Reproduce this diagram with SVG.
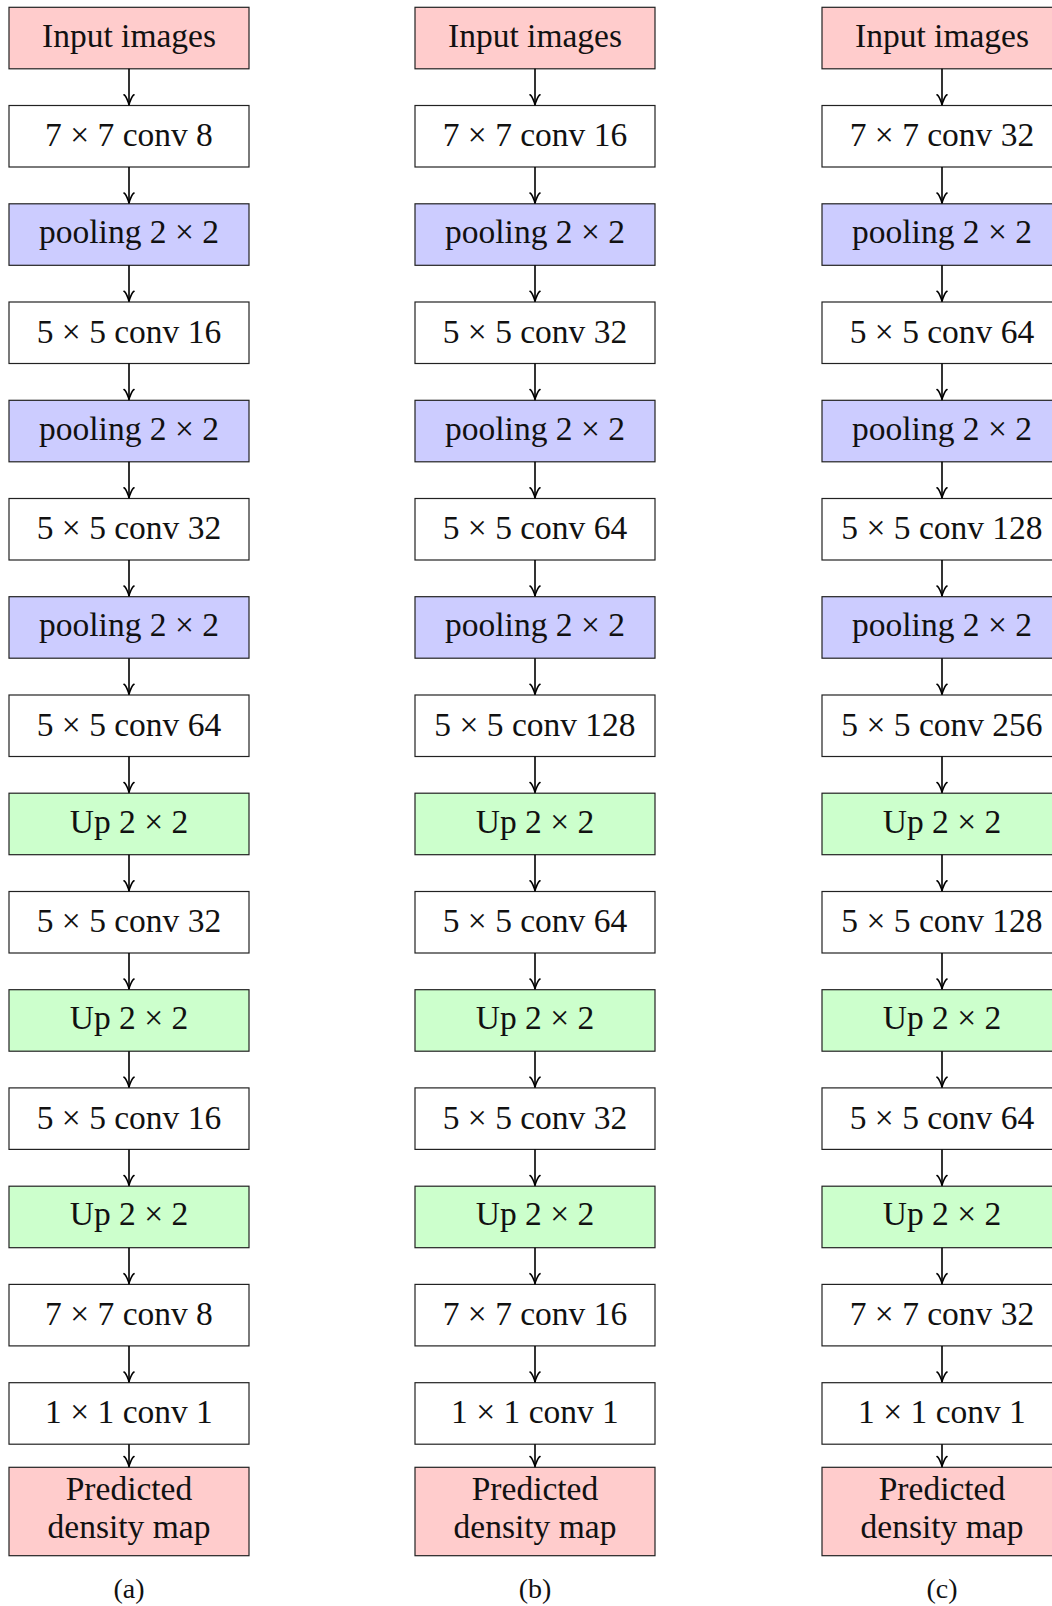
<svg xmlns="http://www.w3.org/2000/svg" width="1052" height="1606" viewBox="0 0 1052 1606">
  <style>
    .box { stroke: #222; stroke-width: 1.2; }
    .red { fill: #ffcccc; }
    .blue { fill: #ccccff; }
    .green { fill: #ccffcc; }
    .white { fill: #ffffff; }
    .t { font-family: "Liberation Serif", "Times New Roman", serif; font-size: 33.5px; text-anchor: middle; fill: #111; }
    .cap { font-family: "Liberation Serif", "Times New Roman", serif; font-size: 28px; text-anchor: middle; fill: #111; }
    .edge line { stroke: #000; stroke-width: 1.6; fill: none; marker-end: url(#to); }
  </style>
  <defs>
    <marker id="to" markerUnits="userSpaceOnUse" markerWidth="16" markerHeight="16" viewBox="-13 -8 16 16" refX="0" refY="0" orient="auto" overflow="visible">
      <path d="M -10,-5 C -9.3,-3.1 -2,-0.3 0,0 C -2,0.3 -9.3,3.1 -10,5" fill="none" stroke="#000" stroke-width="1.6" stroke-linecap="round" stroke-linejoin="round"/>
    </marker>
  </defs>
  <rect width="1052" height="1606" fill="#ffffff"/>

  <!-- column (a) -->
  <g id="col-a">
    <g id="a0"><rect class="box red" x="9" y="7.3" width="240" height="61.5"/><text class="t" x="129" y="46.6">Input images</text></g>
    <g id="a1"><rect class="box white" x="9" y="105.5" width="240" height="61.5"/><text class="t" x="129" y="146.3">7 × 7 conv 8</text></g>
    <g id="a2"><rect class="box blue" x="9" y="203.8" width="240" height="61.5"/><text class="t" x="129" y="243.0">pooling 2 × 2</text></g>
    <g id="a3"><rect class="box white" x="9" y="302.0" width="240" height="61.5"/><text class="t" x="129" y="342.8">5 × 5 conv 16</text></g>
    <g id="a4"><rect class="box blue" x="9" y="400.3" width="240" height="61.5"/><text class="t" x="129" y="439.5">pooling 2 × 2</text></g>
    <g id="a5"><rect class="box white" x="9" y="498.5" width="240" height="61.5"/><text class="t" x="129" y="539.3">5 × 5 conv 32</text></g>
    <g id="a6"><rect class="box blue" x="9" y="596.7" width="240" height="61.5"/><text class="t" x="129" y="636.0">pooling 2 × 2</text></g>
    <g id="a7"><rect class="box white" x="9" y="695.0" width="240" height="61.5"/><text class="t" x="129" y="735.7">5 × 5 conv 64</text></g>
    <g id="a8"><rect class="box green" x="9" y="793.2" width="240" height="61.5"/><text class="t" x="129" y="832.5">Up 2 × 2</text></g>
    <g id="a9"><rect class="box white" x="9" y="891.5" width="240" height="61.5"/><text class="t" x="129" y="932.2">5 × 5 conv 32</text></g>
    <g id="a10"><rect class="box green" x="9" y="989.7" width="240" height="61.5"/><text class="t" x="129" y="1029.0">Up 2 × 2</text></g>
    <g id="a11"><rect class="box white" x="9" y="1087.9" width="240" height="61.5"/><text class="t" x="129" y="1128.7">5 × 5 conv 16</text></g>
    <g id="a12"><rect class="box green" x="9" y="1186.2" width="240" height="61.5"/><text class="t" x="129" y="1225.4">Up 2 × 2</text></g>
    <g id="a13"><rect class="box white" x="9" y="1284.4" width="240" height="61.5"/><text class="t" x="129" y="1325.2">7 × 7 conv 8</text></g>
    <g id="a14"><rect class="box white" x="9" y="1382.7" width="240" height="61.5"/><text class="t" x="129" y="1423.4">1 × 1 conv 1</text></g>
    <g id="a15"><rect class="box red" x="9" y="1467.3" width="240" height="88.4"/><text class="t" x="129" y="1500">Predicted</text><text class="t" x="129" y="1537.5">density map</text></g>
    <text class="cap" x="129" y="1598">(a)</text>
  </g>

  <!-- column (b) -->
  <g id="col-b">
    <g id="b0"><rect class="box red" x="415" y="7.3" width="240" height="61.5"/><text class="t" x="535" y="46.6">Input images</text></g>
    <g id="b1"><rect class="box white" x="415" y="105.5" width="240" height="61.5"/><text class="t" x="535" y="146.3">7 × 7 conv 16</text></g>
    <g id="b2"><rect class="box blue" x="415" y="203.8" width="240" height="61.5"/><text class="t" x="535" y="243.0">pooling 2 × 2</text></g>
    <g id="b3"><rect class="box white" x="415" y="302.0" width="240" height="61.5"/><text class="t" x="535" y="342.8">5 × 5 conv 32</text></g>
    <g id="b4"><rect class="box blue" x="415" y="400.3" width="240" height="61.5"/><text class="t" x="535" y="439.5">pooling 2 × 2</text></g>
    <g id="b5"><rect class="box white" x="415" y="498.5" width="240" height="61.5"/><text class="t" x="535" y="539.3">5 × 5 conv 64</text></g>
    <g id="b6"><rect class="box blue" x="415" y="596.7" width="240" height="61.5"/><text class="t" x="535" y="636.0">pooling 2 × 2</text></g>
    <g id="b7"><rect class="box white" x="415" y="695.0" width="240" height="61.5"/><text class="t" x="535" y="735.7">5 × 5 conv 128</text></g>
    <g id="b8"><rect class="box green" x="415" y="793.2" width="240" height="61.5"/><text class="t" x="535" y="832.5">Up 2 × 2</text></g>
    <g id="b9"><rect class="box white" x="415" y="891.5" width="240" height="61.5"/><text class="t" x="535" y="932.2">5 × 5 conv 64</text></g>
    <g id="b10"><rect class="box green" x="415" y="989.7" width="240" height="61.5"/><text class="t" x="535" y="1029.0">Up 2 × 2</text></g>
    <g id="b11"><rect class="box white" x="415" y="1087.9" width="240" height="61.5"/><text class="t" x="535" y="1128.7">5 × 5 conv 32</text></g>
    <g id="b12"><rect class="box green" x="415" y="1186.2" width="240" height="61.5"/><text class="t" x="535" y="1225.4">Up 2 × 2</text></g>
    <g id="b13"><rect class="box white" x="415" y="1284.4" width="240" height="61.5"/><text class="t" x="535" y="1325.2">7 × 7 conv 16</text></g>
    <g id="b14"><rect class="box white" x="415" y="1382.7" width="240" height="61.5"/><text class="t" x="535" y="1423.4">1 × 1 conv 1</text></g>
    <g id="b15"><rect class="box red" x="415" y="1467.3" width="240" height="88.4"/><text class="t" x="535" y="1500">Predicted</text><text class="t" x="535" y="1537.5">density map</text></g>
    <text class="cap" x="535" y="1598">(b)</text>
  </g>

  <!-- column (c) -->
  <g id="col-c">
    <g id="c0"><rect class="box red" x="822" y="7.3" width="240" height="61.5"/><text class="t" x="942" y="46.6">Input images</text></g>
    <g id="c1"><rect class="box white" x="822" y="105.5" width="240" height="61.5"/><text class="t" x="942" y="146.3">7 × 7 conv 32</text></g>
    <g id="c2"><rect class="box blue" x="822" y="203.8" width="240" height="61.5"/><text class="t" x="942" y="243.0">pooling 2 × 2</text></g>
    <g id="c3"><rect class="box white" x="822" y="302.0" width="240" height="61.5"/><text class="t" x="942" y="342.8">5 × 5 conv 64</text></g>
    <g id="c4"><rect class="box blue" x="822" y="400.3" width="240" height="61.5"/><text class="t" x="942" y="439.5">pooling 2 × 2</text></g>
    <g id="c5"><rect class="box white" x="822" y="498.5" width="240" height="61.5"/><text class="t" x="942" y="539.3">5 × 5 conv 128</text></g>
    <g id="c6"><rect class="box blue" x="822" y="596.7" width="240" height="61.5"/><text class="t" x="942" y="636.0">pooling 2 × 2</text></g>
    <g id="c7"><rect class="box white" x="822" y="695.0" width="240" height="61.5"/><text class="t" x="942" y="735.7">5 × 5 conv 256</text></g>
    <g id="c8"><rect class="box green" x="822" y="793.2" width="240" height="61.5"/><text class="t" x="942" y="832.5">Up 2 × 2</text></g>
    <g id="c9"><rect class="box white" x="822" y="891.5" width="240" height="61.5"/><text class="t" x="942" y="932.2">5 × 5 conv 128</text></g>
    <g id="c10"><rect class="box green" x="822" y="989.7" width="240" height="61.5"/><text class="t" x="942" y="1029.0">Up 2 × 2</text></g>
    <g id="c11"><rect class="box white" x="822" y="1087.9" width="240" height="61.5"/><text class="t" x="942" y="1128.7">5 × 5 conv 64</text></g>
    <g id="c12"><rect class="box green" x="822" y="1186.2" width="240" height="61.5"/><text class="t" x="942" y="1225.4">Up 2 × 2</text></g>
    <g id="c13"><rect class="box white" x="822" y="1284.4" width="240" height="61.5"/><text class="t" x="942" y="1325.2">7 × 7 conv 32</text></g>
    <g id="c14"><rect class="box white" x="822" y="1382.7" width="240" height="61.5"/><text class="t" x="942" y="1423.4">1 × 1 conv 1</text></g>
    <g id="c15"><rect class="box red" x="822" y="1467.3" width="240" height="88.4"/><text class="t" x="942" y="1500">Predicted</text><text class="t" x="942" y="1537.5">density map</text></g>
    <text class="cap" x="942" y="1598">(c)</text>
  </g>

  <!-- arrows between consecutive layers -->
  <g id="connectors" class="edge">
    <line x1="129" y1="68.8" x2="129" y2="104.8"/>
    <line x1="129" y1="167" x2="129" y2="203.1"/>
    <line x1="129" y1="265.3" x2="129" y2="301.3"/>
    <line x1="129" y1="363.5" x2="129" y2="399.6"/>
    <line x1="129" y1="461.8" x2="129" y2="497.8"/>
    <line x1="129" y1="560" x2="129" y2="596"/>
    <line x1="129" y1="658.2" x2="129" y2="694.3"/>
    <line x1="129" y1="756.5" x2="129" y2="792.5"/>
    <line x1="129" y1="854.7" x2="129" y2="890.8"/>
    <line x1="129" y1="953" x2="129" y2="989"/>
    <line x1="129" y1="1051.2" x2="129" y2="1087.2"/>
    <line x1="129" y1="1149.4" x2="129" y2="1185.5"/>
    <line x1="129" y1="1247.7" x2="129" y2="1283.7"/>
    <line x1="129" y1="1345.9" x2="129" y2="1382"/>
    <line x1="129" y1="1444.2" x2="129" y2="1466.6"/>

    <line x1="535" y1="68.8" x2="535" y2="104.8"/>
    <line x1="535" y1="167" x2="535" y2="203.1"/>
    <line x1="535" y1="265.3" x2="535" y2="301.3"/>
    <line x1="535" y1="363.5" x2="535" y2="399.6"/>
    <line x1="535" y1="461.8" x2="535" y2="497.8"/>
    <line x1="535" y1="560" x2="535" y2="596"/>
    <line x1="535" y1="658.2" x2="535" y2="694.3"/>
    <line x1="535" y1="756.5" x2="535" y2="792.5"/>
    <line x1="535" y1="854.7" x2="535" y2="890.8"/>
    <line x1="535" y1="953" x2="535" y2="989"/>
    <line x1="535" y1="1051.2" x2="535" y2="1087.2"/>
    <line x1="535" y1="1149.4" x2="535" y2="1185.5"/>
    <line x1="535" y1="1247.7" x2="535" y2="1283.7"/>
    <line x1="535" y1="1345.9" x2="535" y2="1382"/>
    <line x1="535" y1="1444.2" x2="535" y2="1466.6"/>

    <line x1="942" y1="68.8" x2="942" y2="104.8"/>
    <line x1="942" y1="167" x2="942" y2="203.1"/>
    <line x1="942" y1="265.3" x2="942" y2="301.3"/>
    <line x1="942" y1="363.5" x2="942" y2="399.6"/>
    <line x1="942" y1="461.8" x2="942" y2="497.8"/>
    <line x1="942" y1="560" x2="942" y2="596"/>
    <line x1="942" y1="658.2" x2="942" y2="694.3"/>
    <line x1="942" y1="756.5" x2="942" y2="792.5"/>
    <line x1="942" y1="854.7" x2="942" y2="890.8"/>
    <line x1="942" y1="953" x2="942" y2="989"/>
    <line x1="942" y1="1051.2" x2="942" y2="1087.2"/>
    <line x1="942" y1="1149.4" x2="942" y2="1185.5"/>
    <line x1="942" y1="1247.7" x2="942" y2="1283.7"/>
    <line x1="942" y1="1345.9" x2="942" y2="1382"/>
    <line x1="942" y1="1444.2" x2="942" y2="1466.6"/>
  </g>
</svg>
